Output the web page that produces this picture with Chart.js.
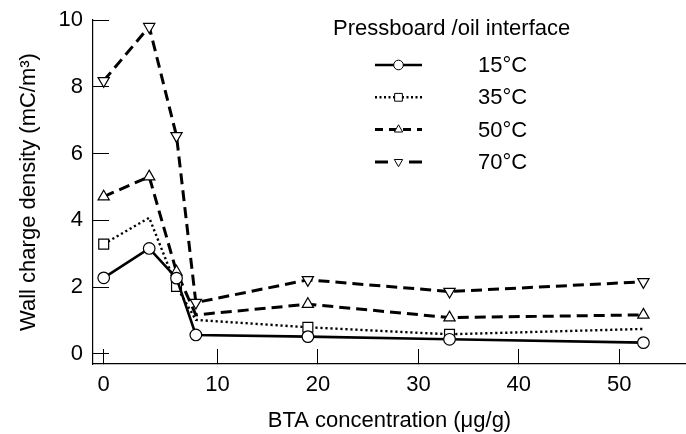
<!DOCTYPE html>
<html>
<head>
<meta charset="utf-8">
<script src="https://cdn.jsdelivr.net/npm/chart.js@4.4.1/dist/chart.umd.min.js"></script>
<style>
  html, body { margin: 0; padding: 0; background: #fff; }
</style>
</head>
<body>
<canvas id="chart" width="686" height="434"></canvas>
<script>
// BTA concentration (ug/g) and wall charge density (mC/m3) per oil temperature
const concentration = [0, 4, 6.4, 8.1, 19, 33.1, 52.4];
const temperatures = ["15°C", "35°C", "50°C", "70°C"];
const charge15 = [2.28, 3.16, 2.27, 0.57, 0.52, 0.44, 0.34];
const charge35 = [3.29, 4.08, 2.02, 1.02, 0.80, 0.59, 0.75];
const charge50 = [4.71, 5.31, 2.46, 1.17, 1.49, 1.09, 1.17];
const charge70 = [8.18, 9.80, 6.53, 1.54, 2.22, 1.87, 2.16];

const FONT = '"Liberation Sans", Arial, sans-serif';

// the printed x axis is a bit wider between 0 and 10 than elsewhere
class StretchedScale extends Chart.LinearScale {
  getPixelForValue(value) {
    if (value === null || value === undefined) return NaN;
    const v = value < 10 ? 10 - (10 - value) * 1.1325 : value;
    return super.getPixelForValue(v);
  }
}
StretchedScale.id = "stretched";
Chart.register(StretchedScale);

function points(ys) {
  return concentration.map((x, i) => ({ x: x, y: ys[i] }));
}

// fixed axis boxes, no extra room for the labels
function fixSize(size) {
  return (scale) => {
    if (scale.isHorizontal()) scale.height = size;
    else scale.width = size;
    scale.paddingLeft = 0;
    scale.paddingRight = 0;
    scale.paddingTop = 0;
    scale.paddingBottom = 0;
  };
}

const legendBox = {
  id: "legendBox",
  afterDatasetsDraw(chart) {
    const ctx = chart.ctx;
    ctx.save();
    ctx.font = "22px " + FONT;
    ctx.fillStyle = "#000";
    ctx.textBaseline = "middle";
    ctx.fillText("Pressboard /oil interface", 333, 29);
    chart.data.datasets.forEach((ds, i) => {
      const y = 65 + i * 32.3;
      ctx.strokeStyle = "#000";
      ctx.lineWidth = ds.borderWidth;
      ctx.setLineDash(ds.legendDash || ds.borderDash || []);
      ctx.beginPath();
      ctx.moveTo(375, y);
      ctx.lineTo(422, y);
      ctx.stroke();
      ctx.setLineDash([]);
      ctx.lineWidth = 1;
      ctx.fillStyle = "#fff";
      Chart.helpers.drawPoint(ctx, {
        pointStyle: ds.pointStyle,
        rotation: ds.pointRotation || 0,
        radius: ds.pointStyle === "rect" ? 5.5 : 4.8,
        borderWidth: 1
      }, 398.5, y);
      ctx.fillStyle = "#000";
      ctx.fillText(ds.label, 478, y + 1);
    });
    ctx.restore();
  }
};

new Chart(document.getElementById("chart"), {
  type: "line",
  data: {
    datasets: [
      {
        label: temperatures[0],
        data: points(charge15),
        borderColor: "#000",
        borderWidth: 2.6,
        pointStyle: "circle",
        pointRadius: 5.8,
        pointBackgroundColor: "#fff",
        pointBorderColor: "#000",
        pointBorderWidth: 1.2
      },
      {
        label: temperatures[1],
        data: points(charge35),
        borderColor: "#000",
        borderWidth: 2.4,
        borderDash: [2.2, 2.8],
        legendDash: [2, 2.5],
        pointStyle: "rect",
        pointRadius: [7, 0, 7, 0, 7, 7, 0],
        pointBackgroundColor: "#fff",
        pointBorderColor: "#000",
        pointBorderWidth: 1.2
      },
      {
        label: temperatures[2],
        data: points(charge50),
        borderColor: "#000",
        borderWidth: 3,
        borderDash: [11, 6],
        legendDash: [8, 6],
        pointStyle: "triangle",
        pointRadius: [6.5, 6.5, 6.5, 0, 6.5, 6.5, 6.5],
        pointBackgroundColor: "#fff",
        pointBorderColor: "#000",
        pointBorderWidth: 1.2
      },
      {
        label: temperatures[3],
        data: points(charge70),
        borderColor: "#000",
        borderWidth: 3,
        borderDash: [11, 6],
        legendDash: [13, 21],
        pointStyle: "triangle",
        pointRotation: 180,
        pointRadius: 6.5,
        pointBackgroundColor: "#fff",
        pointBorderColor: "#000",
        pointBorderWidth: 1.2
      }
    ]
  },
  options: {
    responsive: false,
    animation: false,
    devicePixelRatio: 1,
    layout: { autoPadding: false, padding: { top: 20, right: 0, left: 0, bottom: 0 } },
    plugins: {
      legend: { display: false },
      tooltip: { enabled: false }
    },
    elements: { line: { tension: 0 } },
    scales: {
      x: {
        type: "stretched",
        min: -2.39,
        max: 56.64,
        afterFit: fixSize(70),
        border: { display: true, color: "#000", width: 1.2 },
        grid: { drawOnChartArea: false, drawTicks: true, tickLength: -15, color: "#000", tickColor: "#000", tickWidth: 1 },
        ticks: { stepSize: 10, includeBounds: false, padding: 23, color: "#000", font: { family: FONT, size: 22 } },
        title: { display: true, text: "BTA concentration (μg/g)", color: "#000", padding: { top: 0, bottom: 0 }, font: { family: FONT, size: 22 } }
      },
      y: {
        min: -0.3,
        max: 10,
        afterFit: fixSize(93),
        border: { display: true, color: "#000", width: 1.2 },
        grid: { drawOnChartArea: false, drawTicks: true, tickLength: -16, color: "#000", tickColor: "#000", tickWidth: 1 },
        ticks: { stepSize: 2, includeBounds: false, padding: 26, color: "#000", font: { family: FONT, size: 22 } },
        title: { display: true, text: "Wall charge density (mC/m³)", color: "#000", padding: { top: 16, bottom: 0 }, font: { family: FONT, size: 22 } }
      }
    }
  },
  plugins: [legendBox]
});
</script>
</body>
</html>
